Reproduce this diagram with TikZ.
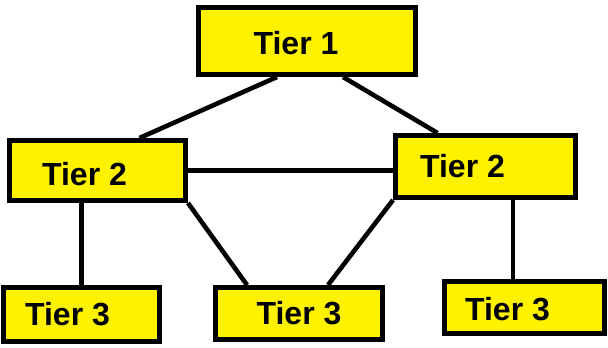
\documentclass[tikz,border=0pt]{standalone}
\usepackage{fontspec}
\setsansfont{Liberation Sans}
\usepackage{xcolor}
\usepackage{tikz}
\usetikzlibrary{calc}
\definecolor{tieryellow}{RGB}{255,242,0}

\begin{document}
\begin{tikzpicture}[
  x=0.5pt,y=-0.5pt,
  font=\sffamily\bfseries\fontsize{16}{19}\selectfont,
  tier/.style={rectangle,draw,line width=2.5pt,fill=tieryellow,inner sep=0pt},
  link/.style={line width=2.3pt}]
\useasboundingbox (0,0) rectangle (608,347);
% boxes
\node[tier,minimum width=108.5pt,minimum height=33.5pt,label={[xshift=-5.5pt,yshift=-1pt]center:Tier 1}] (t1) at (307,41) {};
\node[tier,minimum width=88pt,minimum height=30pt,label={[xshift=-6.5pt,yshift=-2pt]center:Tier 2}] (t2l) at (97.5,170.5) {};
\node[tier,minimum width=90pt,minimum height=31pt,label={[xshift=-11.5pt]center:Tier 2}] (t2r) at (485.5,166.5) {};
\node[tier,minimum width=78pt,minimum height=27pt,label={[xshift=-7pt]center:Tier 3}] (t3l) at (81.5,314.5) {};
\node[tier,minimum width=83.5pt,minimum height=26pt,label={center:Tier 3}] (t3m) at (299,313.5) {};
\node[tier,minimum width=80pt,minimum height=26pt,label={[xshift=-8.5pt,yshift=-1pt]center:Tier 3}] (t3r) at (524.5,307.5) {};
% links
\draw[link] ([xshift=-15pt]t1.south) -- ([xshift=21pt]t2l.north);
\draw[link] ([xshift=18pt]t1.south) -- ([xshift=-24pt]t2r.north);
\draw[link] (t2l.east) -- (t2l.east -| t2r.west);
\draw[link] ([xshift=-8pt]t2l.south) -- ([xshift=-8pt]t2l.south |- t3l.north);
\draw[link] (t2l.south east) -- ([xshift=-26pt]t3m.north);
\draw[link] (t2r.south west) -- ([xshift=14.5pt]t3m.north);
\draw[link] ([xshift=13.75pt]t2r.south) -- ([xshift=13.75pt]t2r.south |- t3r.north);
\end{tikzpicture}
\end{document}
